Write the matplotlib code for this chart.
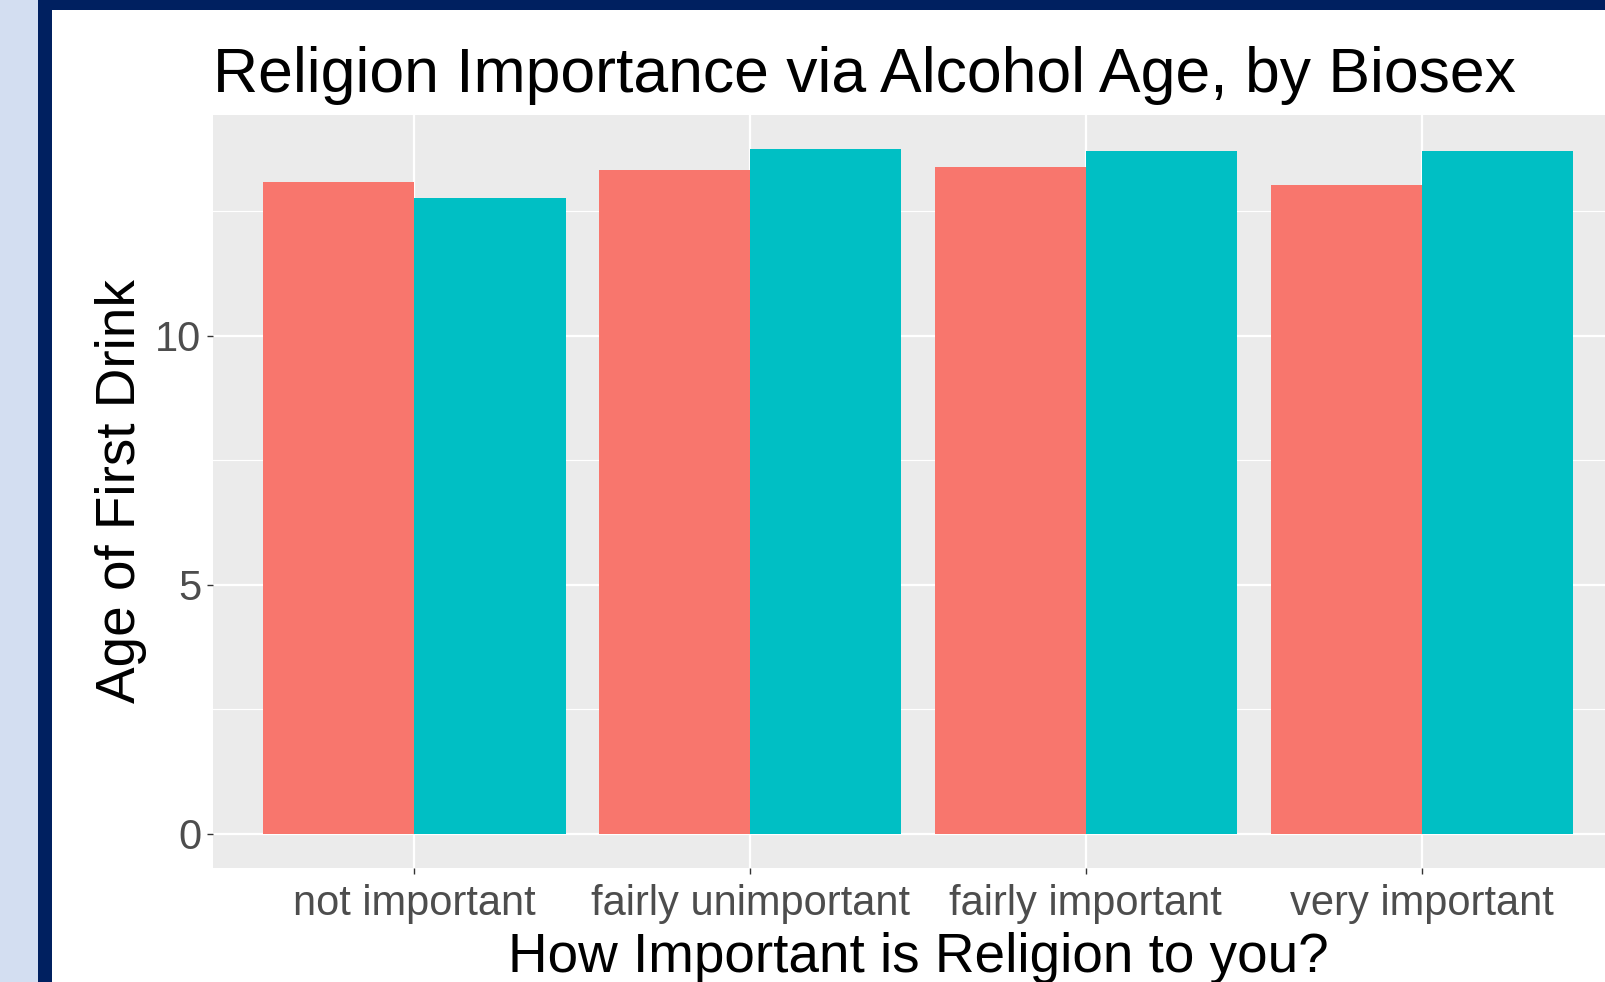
import matplotlib.pyplot as plt
from matplotlib.patches import Rectangle
import numpy as np

plt.rcParams['font.family'] = ['Liberation Sans', 'DejaVu Sans']

categories = ['not important', 'fairly unimportant', 'fairly important', 'very important']
female = [13.08, 13.33, 13.39, 13.02]
male = [12.77, 13.74, 13.70, 13.70]
yticks = [0, 5, 10]

W, H = 1605, 982
fig = plt.figure(figsize=(W / 100, H / 100), dpi=100)
fig.patch.set_facecolor('white')

# slide frame
fig.patches.append(Rectangle((0, 0), 38 / W, 1, transform=fig.transFigure,
                             facecolor='#D3DEF1', edgecolor='none', zorder=0))
fig.patches.append(Rectangle((38 / W, 0), 14 / W, 1, transform=fig.transFigure,
                             facecolor='#002060', edgecolor='none', zorder=0))
fig.patches.append(Rectangle((38 / W, 1 - 10 / H), 1, 10 / H, transform=fig.transFigure,
                             facecolor='#002060', edgecolor='none', zorder=0))

# panel: left 213, right 1623 (clipped), top 115, bottom 868 px
ax = fig.add_axes([213 / W, 1 - 868 / H, 1410 / W, (868 - 115) / H])
ax.set_facecolor('#EBEBEB')
for s in ax.spines.values():
    s.set_visible(False)

x = np.arange(1, len(categories) + 1)
ax.bar(x - 0.225, female, width=0.45, color='#F8766D', zorder=3)
ax.bar(x + 0.225, male, width=0.45, color='#00BFC4', zorder=3)

ymax = max(max(female), max(male))
ax.set_xlim(0.4, 4.6)
ax.set_ylim(-0.05 * ymax, ymax * 1.05)

ax.set_yticks(yticks)
ax.set_yticks([2.5, 7.5, 12.5], minor=True)
ax.set_xticks(x)
ax.set_xticklabels(categories)
ax.grid(which='major', color='white', linewidth=1.6, zorder=1)
ax.grid(which='minor', axis='y', color='white', linewidth=0.8, zorder=1)
ax.set_axisbelow(True)
ax.tick_params(which='major', length=4.5, width=1, color='#333333',
               labelcolor='#4D4D4D', labelsize=30)
ax.tick_params(axis='x', pad=7)
ax.tick_params(axis='y', pad=4)
ax.tick_params(which='minor', length=0)

ax.set_xlabel('How Important is Religion to you?', fontsize=39.5, color='black', va='baseline')
ax.xaxis.set_label_coords(0.5, -0.138)
ax.set_ylabel('Age of First Drink', fontsize=39.5, color='black')
ax.yaxis.set_label_coords(-0.047, 0.5)

ax.text(0, (868 - 92) / 753, 'Religion Importance via Alcohol Age, by Biosex',
        transform=ax.transAxes, fontsize=45, va='baseline', ha='left', color='black')

fig.savefig('out.png', dpi=100)
